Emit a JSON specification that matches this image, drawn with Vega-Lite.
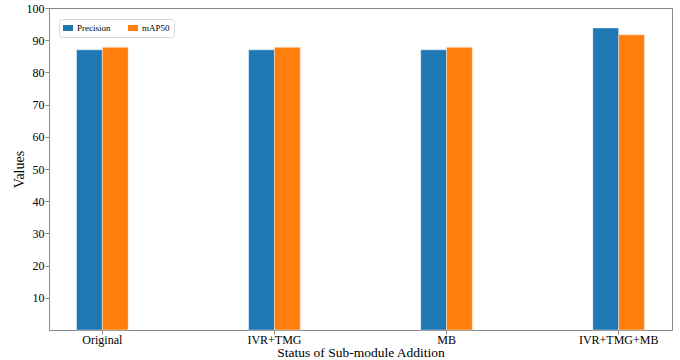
{
  "$schema": "https://vega.github.io/schema/vega-lite/v6.json",
  "autosize": "none",
  "padding": {"left": 49, "top": 8, "right": 8, "bottom": 30},
  "width": 623,
  "height": 322,
  "data": {"values": [
    {"status": "Original", "metric": "Precision", "value": 87.0},
    {"status": "Original", "metric": "mAP50", "value": 87.8},
    {"status": "IVR+TMG", "metric": "Precision", "value": 87.0},
    {"status": "IVR+TMG", "metric": "mAP50", "value": 87.8},
    {"status": "MB", "metric": "Precision", "value": 87.0},
    {"status": "MB", "metric": "mAP50", "value": 87.8},
    {"status": "IVR+TMG+MB", "metric": "Precision", "value": 93.8},
    {"status": "IVR+TMG+MB", "metric": "mAP50", "value": 91.7}
  ]},
  "config": {
    "font": "Liberation Serif",
    "view": {"stroke": "#888888", "strokeWidth": 1},
    "axis": {"grid": false, "domainColor": "#888888", "tickColor": "#888888", "labelColor": "#000000", "titleColor": "#000000", "titleFontWeight": "normal", "tickSize": 4}
  },
  "mark": {"type": "bar", "stroke": "#ffffff", "strokeOpacity": 0.5, "strokeWidth": 0.8},
  "encoding": {
    "x": {
      "field": "status", "type": "nominal",
      "sort": ["Original", "IVR+TMG", "MB", "IVR+TMG+MB"],
      "scale": {"paddingInner": 0.7, "paddingOuter": 0.16},
      "axis": {"title": "Status of Sub-module Addition", "titleFont": "Liberation Serif", "titleFontSize": 13.5, "labelFont": "Liberation Serif", "labelFontSize": 12, "labelAngle": 0, "titlePadding": 0, "labelPadding": 0}
    },
    "xOffset": {"field": "metric", "type": "nominal", "sort": ["Precision", "mAP50"]},
    "y": {
      "field": "value", "type": "quantitative",
      "scale": {"domain": [0, 100], "nice": false},
      "axis": {"title": "Values", "titleFont": "Liberation Serif", "titleFontSize": 14, "labelFont": "Liberation Serif", "labelFontSize": 12, "values": [10, 20, 30, 40, 50, 60, 70, 80, 90, 100], "titlePadding": 0, "labelPadding": 1}
    },
    "color": {
      "field": "metric", "type": "nominal",
      "scale": {"domain": ["Precision", "mAP50"], "range": ["#1f77b4", "#ff7f0e"]},
      "legend": {
        "orient": "none", "legendX": 10, "legendY": 11, "direction": "horizontal",
        "title": null, "symbolType": "M-1,-0.6H1V0.6H-1Z", "symbolSize": 100, "symbolStrokeWidth": 0,
        "labelFont": "Liberation Serif", "labelFontSize": 9, "labelOffset": 4, "columnPadding": 17,
        "padding": 4, "strokeColor": "#d8d8d8", "fillColor": "#ffffff", "cornerRadius": 3
      }
    }
  }
}
